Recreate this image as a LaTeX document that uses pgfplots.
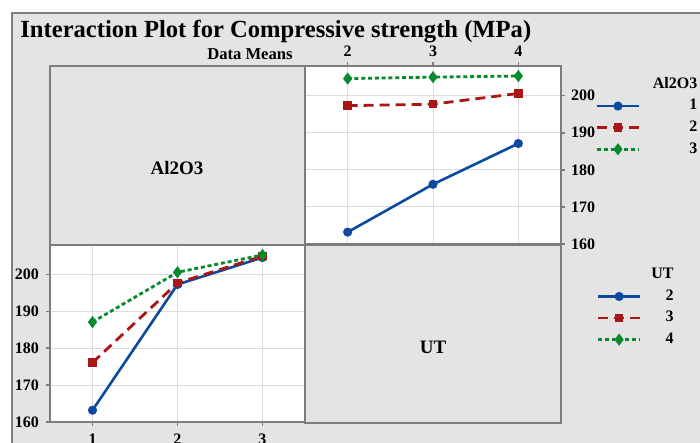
\documentclass[border=0pt]{standalone}
\usepackage{pgfplots}
\pgfplotsset{compat=1.18}
\usepackage{pgfplotstable}
\usepackage{fontspec}
\setmainfont{Liberation Serif}

\definecolor{bggrey}{RGB}{228,228,228}
\definecolor{framegrey}{RGB}{125,125,125}
\definecolor{gridgrey}{RGB}{220,220,220}
\definecolor{lnblue}{RGB}{12,74,162}
\definecolor{lnred}{RGB}{170,22,22}
\definecolor{lngreen}{RGB}{6,138,44}

% Data means: rows = Al2O3 level, columns = UT level
\pgfplotstableread{
al  ut2   ut3   ut4
1   163.2 176.1 187.1
2   197.3 197.7 200.6
3   204.6 205.0 205.3
}\meansByAl
% same means, rows = UT level, columns = Al2O3 level
\pgfplotstableread{
ut  al1   al2   al3
2   163.2 197.3 204.6
3   176.1 197.7 205.0
4   187.1 200.6 205.3
}\meansByUT

\pgfplotsset{
  ipanel/.style={
    scale only axis,
    axis background/.style={fill=white},
    axis line style={draw=framegrey, line width=1.4pt},
    grid=major,
    major grid style={draw=gridgrey, line width=0.5pt},
    tick style={draw=framegrey, line width=0.8pt},
    tick align=outside,
    major tick length=2pt,
    ymin=160, ymax=208,
    ytick={160,170,180,190,200},
    tick label style={font=\bfseries\fontsize{8}{9}\selectfont},
    /pgf/number format/assume math mode=true,
    legend image code/.code={
      \draw[mark repeat=2,mark phase=2,##1] plot coordinates {(0pt,0pt) (10.5pt,0pt) (21pt,0pt)};},
    legend style={draw=none, fill=none, font=\bfseries\fontsize{8}{9}\selectfont,
      row sep=2pt, column sep=0pt, nodes={inner sep=1pt}},
  },
  s1/.style={lnblue, line width=1.3pt, mark=*, mark size=1.6pt, mark options={solid}},
  s2/.style={lnred, line width=1.4pt, dash pattern=on 5pt off 3pt, mark=square*, mark size=1.4pt, mark options={solid}},
  s3/.style={lngreen, line width=1.4pt, dash pattern=on 2pt off 1.4pt, mark=diamond*, mark size=1.9pt, mark options={solid}},
}

\begin{document}
\begin{tikzpicture}
\useasboundingbox (0,0) rectangle (350pt,-221.5pt);
\clip (0,0) rectangle (350pt,-221.5pt);
\fill[white] (0,0) rectangle (350pt,-221.5pt);
% outer frame
\draw[fill=bggrey, draw=framegrey, line width=1.1pt] (6pt,-6.5pt) rectangle (360pt,-230pt);

\node[anchor=base west, inner sep=0pt, font=\bfseries\fontsize{12.3}{14}\selectfont]
  at (10pt,-18.8pt) {Interaction Plot for Compressive strength (MPa)};
\node[anchor=base east, inner sep=0pt, font=\bfseries\fontsize{8.3}{9}\selectfont]
  at (146.5pt,-30pt) {Data Means};

% label panels
\draw[fill=bggrey, draw=framegrey, line width=1.4pt] (25pt,-33pt) rectangle (152.5pt,-122.5pt);
\node[font=\bfseries\fontsize{9.5}{11}\selectfont] at (88.5pt,-84pt) {Al2O3};
\draw[fill=bggrey, draw=framegrey, line width=1.4pt] (152.5pt,-122.5pt) rectangle (280.5pt,-211.5pt);
\node[font=\bfseries\fontsize{9.5}{11}\selectfont] at (216.5pt,-173.5pt) {UT};

% upper right: x = UT, lines = Al2O3
\begin{axis}[ipanel,
  at={(152.5pt,-33pt)}, anchor=north west,
  width=128pt, height=89pt,
  xmin=1.5, xmax=4.5, xtick={2,3,4},
  xtick pos=upper, ytick pos=upper,
  xticklabel pos=upper, yticklabel pos=upper,
  xticklabel style={yshift=-1pt},
  yticklabel style={xshift=-0.5pt},
  legend style={at={(1.11,0.973)}, anchor=north west},
]
\addlegendimage{empty legend}
\addlegendentry{\makebox[27.5pt][r]{Al2O3}}
\addplot[s1] table[x=ut, y=al1] {\meansByUT};
\addlegendentry{\makebox[27.5pt][r]{1}}
\addplot[s2] table[x=ut, y=al2] {\meansByUT};
\addlegendentry{\makebox[27.5pt][r]{2}}
\addplot[s3] table[x=ut, y=al3] {\meansByUT};
\addlegendentry{\makebox[27.5pt][r]{3}}
\end{axis}

% lower left: x = Al2O3, lines = UT
\begin{axis}[ipanel,
  at={(25pt,-122.5pt)}, anchor=north west,
  width=127.5pt, height=88.5pt,
  xmin=0.5, xmax=3.5, xtick={1,2,3},
  xtick pos=lower, ytick pos=lower,
  xticklabel pos=lower, yticklabel pos=lower,
  xticklabel style={yshift=-0.5pt},
  legend style={at={(2.119,0.905)}, anchor=north west},
]
\addlegendimage{empty legend}
\addlegendentry{\makebox[15pt][r]{UT}}
\addplot[s1] table[x=al, y=ut2] {\meansByAl};
\addlegendentry{\makebox[15pt][r]{2}}
\addplot[s2] table[x=al, y=ut3] {\meansByAl};
\addlegendentry{\makebox[15pt][r]{3}}
\addplot[s3] table[x=al, y=ut4] {\meansByAl};
\addlegendentry{\makebox[15pt][r]{4}}
\end{axis}
\end{tikzpicture}
\end{document}
